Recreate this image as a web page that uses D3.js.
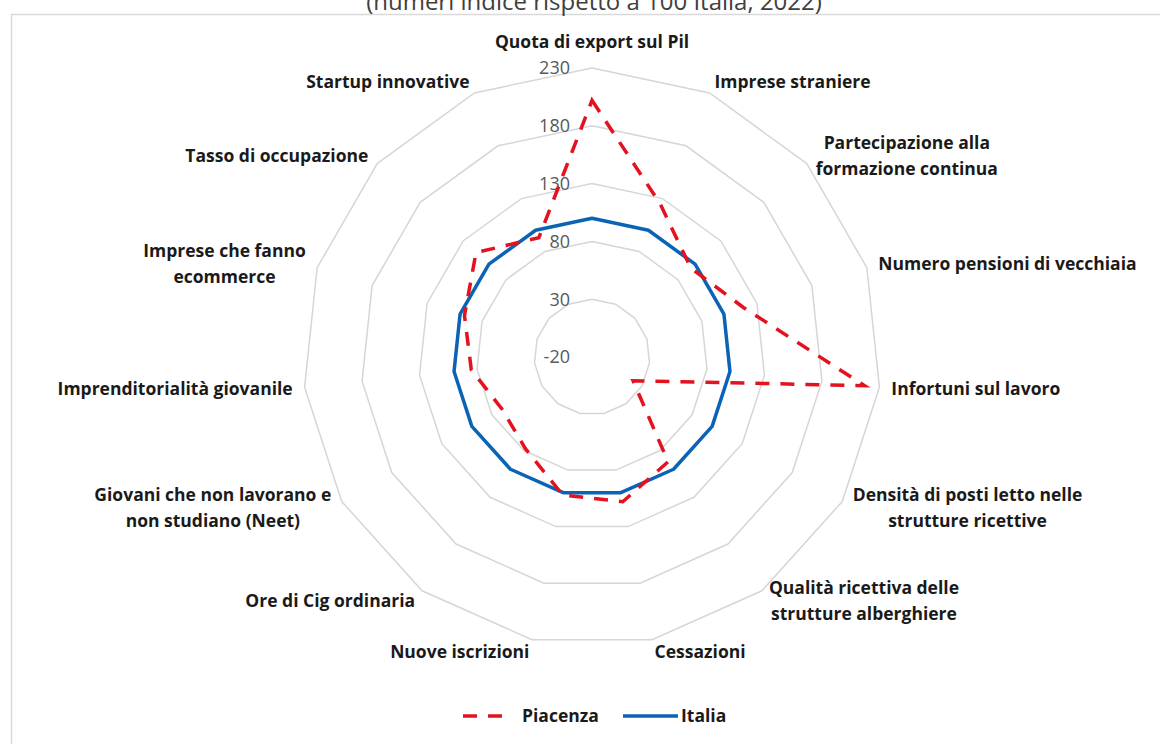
<!DOCTYPE html>
<html>
<head>
<meta charset="utf-8">
<script src="https://cdn.jsdelivr.net/npm/d3@7"></script>
<style>
  body { margin: 0; background: #fff; }
  svg { display: block; font-family: "Open Sans", Lato, sans-serif; }
</style>
</head>
<body>
<svg id="chart"></svg>
<script>
// axis categories, clockwise from the top
const categories = [
  ['Quota di export sul Pil'],
  ['Imprese straniere'],
  ['Partecipazione alla', 'formazione continua'],
  ['Numero pensioni di vecchiaia'],
  ['Infortuni sul lavoro'],
  ['Densità di posti letto nelle', 'strutture ricettive'],
  ['Qualità ricettiva delle', 'strutture alberghiere'],
  ['Cessazioni'],
  ['Nuove iscrizioni'],
  ['Ore di Cig ordinaria'],
  ['Giovani che non lavorano e', 'non studiano (Neet)'],
  ['Imprenditorialità giovanile'],
  ['Imprese che fanno', 'ecommerce'],
  ['Tasso di occupazione'],
  ['Startup innovative']
];
const piacenza = [202, 125, 95, 118, 217, 21, 92, 108, 102, 78, 70, 85, 96, 115, 93];
const italia = [100, 100, 100, 100, 100, 100, 100, 100, 100, 100, 100, 100, 100, 100, 100];
const ticks = [-20, 30, 80, 130, 180, 230];
const seriesNames = ['Piacenza', 'Italia'];

const width = 1160, height = 744;
const cx = 592, cy = 357, R = 289;
const red = '#e3121e', blue = '#0b63b5';

const svg = d3.select('#chart').attr('width', width).attr('height', height);

// outer frame of the chart area
svg.append('rect')
  .attr('x', 11.5).attr('y', 14.5)
  .attr('width', width + 20).attr('height', height + 20)
  .attr('fill', '#fff').attr('stroke', '#d9d9d9').attr('stroke-width', 1.5);

// title, cut by the top of the picture
svg.append('text')
  .attr('x', 594).attr('y', 10)
  .attr('text-anchor', 'middle')
  .attr('font-size', 24)
  .attr('fill', '#404040')
  .text('(numeri indice rispetto a 100 Italia, 2022)');

const r = d3.scaleLinear().domain([-20, 230]).range([0, R]);
const angle = i => i * 2 * Math.PI / categories.length;

const g = svg.append('g').attr('transform', `translate(${cx},${cy})`);

const radial = d3.lineRadial()
  .angle((d, i) => angle(i))
  .radius(d => r(d))
  .curve(d3.curveLinearClosed);

// grid rings
g.selectAll('.ring')
  .data(ticks.slice(1))
  .enter()
  .append('path')
    .attr('d', t => radial(categories.map(() => t)))
    .attr('fill', 'none')
    .attr('stroke', '#d6d6d6')
    .attr('stroke-width', 1.5);

// tick labels
g.selectAll('.tick')
  .data(ticks)
  .enter()
  .append('text')
    .attr('x', -22)
    .attr('y', t => -r(t))
    .attr('dy', '0.35em')
    .attr('text-anchor', 'end')
    .attr('font-size', 18)
    .attr('fill', '#595959')
    .text(t => t);

// series
g.append('path')
  .attr('d', radial(italia))
  .attr('fill', 'none')
  .attr('stroke', blue)
  .attr('stroke-width', 3.5)
  .attr('stroke-linejoin', 'round');

g.append('path')
  .attr('d', radial(piacenza))
  .attr('fill', 'none')
  .attr('stroke', red)
  .attr('stroke-width', 3.5)
  .attr('stroke-dasharray', '14,11');

// category labels
const lineH = 26, pad = 12;
categories.forEach((lines, i) => {
  let a = angle(i);
  let s = Math.sin(a), c = Math.cos(a);
  let px = (R + pad) * s, py = -(R + pad) * c;
  let lab = g.append('g');
  let texts = lab.selectAll('text')
    .data(lines)
    .enter()
    .append('text')
      .attr('font-size', 17.5)
      .attr('font-weight', 'bold')
      .attr('fill', '#1a1a1a')
      .attr('text-anchor', 'middle')
      .text(d => d);
  let w = d3.max(texts.nodes(), n => n.getComputedTextLength());
  let bx = s > 0.1 ? px + w / 2 : s < -0.1 ? px - w / 2 : px;
  let blockH = lines.length * lineH;
  let top = c > 0.99 ? py - blockH - 1 : py - blockH / 2;
  texts.attr('x', bx).attr('y', (d, k) => top + k * lineH + lineH / 2).attr('dy', '0.35em');
});

// legend
const leg = svg.append('g').attr('transform', 'translate(0,716)');
leg.append('line')
  .attr('x1', 463).attr('x2', 509).attr('y1', 0).attr('y2', 0)
  .attr('stroke', red).attr('stroke-width', 3.5).attr('stroke-dasharray', '14,11');
leg.append('text')
  .attr('x', 522).attr('dy', '0.35em')
  .attr('font-size', 17.5).attr('font-weight', 'bold').attr('fill', '#1a1a1a')
  .text(seriesNames[0]);
leg.append('line')
  .attr('x1', 623).attr('x2', 678).attr('y1', 0).attr('y2', 0)
  .attr('stroke', blue).attr('stroke-width', 3.5);
leg.append('text')
  .attr('x', 681).attr('dy', '0.35em')
  .attr('font-size', 17.5).attr('font-weight', 'bold').attr('fill', '#1a1a1a')
  .text(seriesNames[1]);
</script>
</body>
</html>
